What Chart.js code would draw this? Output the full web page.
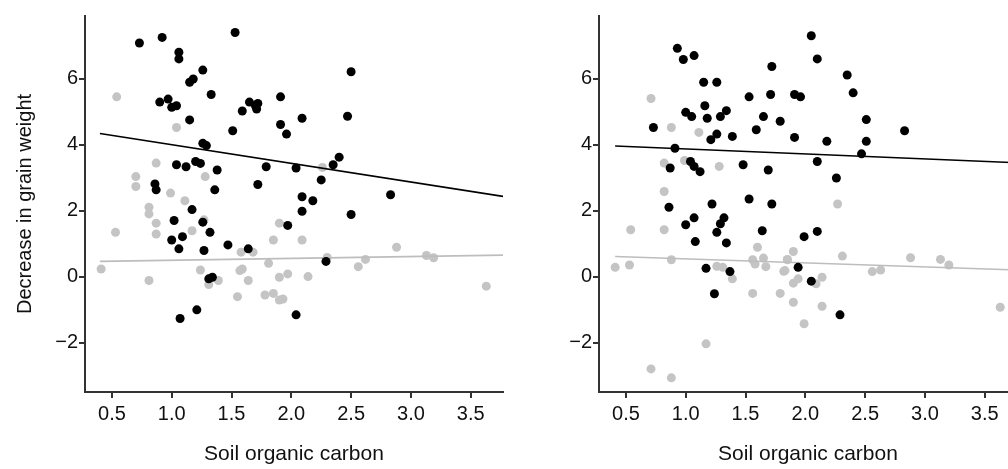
<!DOCTYPE html>
<html>
<head>
<meta charset="utf-8">
<script src="https://cdn.jsdelivr.net/npm/chart.js@4"></script>
<style>
  html, body { margin: 0; padding: 0; background: #fff; overflow: hidden; width: 1008px; height: 469px; }
  .panel { position: absolute; top: 0; }
</style>
</head>
<body>
<canvas id="leftChart" class="panel" width="515" height="469" style="left:0"></canvas>
<canvas id="rightChart" class="panel" width="515" height="469" style="left:514px"></canvas>
<script>
// tick values
const xTicks = [0.5, 1.0, 1.5, 2.0, 2.5, 3.0, 3.5];
const yTicks = [-2, 0, 2, 4, 6];

// left panel: [soil organic carbon, decrease in grain weight]
const leftBlack = [
  [0.73, 7.08], [0.92, 7.25], [1.06, 6.80], [1.06, 6.60], [1.53, 7.40], [1.26, 6.26],
  [1.18, 5.99], [1.15, 5.89], [1.33, 5.52], [0.90, 5.29], [0.97, 5.38], [1.00, 5.13],
  [1.04, 5.18], [1.15, 4.75], [1.51, 4.42], [1.59, 5.02], [1.65, 5.29], [1.70, 5.18],
  [1.72, 5.25], [1.71, 5.08], [1.91, 5.45], [1.91, 4.61], [1.96, 4.32], [1.26, 4.04],
  [1.29, 3.97], [1.04, 3.39], [1.12, 3.33], [1.20, 3.49], [1.24, 3.43], [1.38, 3.23],
  [1.79, 3.33], [2.50, 6.21], [2.09, 4.80], [2.47, 4.86], [2.40, 3.62], [2.35, 3.39],
  [2.04, 3.29], [2.25, 2.93], [0.86, 2.81], [0.87, 2.63], [1.36, 2.63], [1.72, 2.79],
  [1.17, 2.03], [1.02, 1.70], [1.26, 1.65], [1.32, 1.34], [1.00, 1.11], [1.09, 1.21],
  [1.06, 0.84], [1.27, 0.79], [1.47, 0.96], [1.64, 0.84], [1.97, 1.55], [1.31, -0.07],
  [1.34, -0.02], [1.07, -1.27], [1.21, -1.01], [2.09, 2.42], [2.18, 2.30], [2.09, 1.98],
  [2.83, 2.48], [2.50, 1.88], [2.29, 0.46], [2.04, -1.16]
];
const leftGrey = [
  [0.54, 5.45], [1.04, 4.52], [0.87, 3.44], [0.70, 3.03], [1.28, 3.03], [2.26, 3.31],
  [0.70, 2.73], [0.99, 2.53], [1.11, 2.30], [0.81, 2.10], [0.81, 1.90], [0.87, 1.62],
  [0.87, 1.29], [0.53, 1.34], [1.17, 1.39], [1.27, 1.72], [1.90, 1.62], [1.85, 1.11],
  [1.58, 0.74], [1.68, 0.74], [1.81, 0.40], [0.41, 0.23], [0.81, -0.12], [1.24, 0.20],
  [1.31, -0.24], [1.39, -0.12], [1.57, 0.18], [1.59, 0.23], [1.64, -0.12], [1.90, -0.02],
  [1.97, 0.08], [1.55, -0.61], [1.78, -0.56], [1.85, -0.51], [1.90, -0.71], [1.93, -0.68],
  [2.09, 1.11], [2.88, 0.89], [3.13, 0.64], [3.19, 0.57], [2.62, 0.52], [2.56, 0.30],
  [2.30, 0.58], [2.14, 0.00], [3.63, -0.29]
];
const leftBlackFit = [[0.40, 4.34], [3.77, 2.43]];
const leftGreyFit = [[0.40, 0.46], [3.77, 0.65]];

// right panel
const rightBlack = [
  [0.93, 6.92], [0.98, 6.58], [1.07, 6.70], [1.15, 5.89], [1.26, 5.89], [1.72, 6.37],
  [1.53, 5.45], [1.71, 5.52], [1.16, 5.18], [1.00, 4.98], [1.05, 4.85], [1.18, 4.80],
  [1.29, 4.85], [1.34, 5.03], [1.65, 4.85], [1.79, 4.71], [0.73, 4.52], [1.59, 4.45],
  [1.39, 4.25], [1.26, 4.32], [1.21, 4.15], [0.91, 3.89], [0.87, 3.29], [1.04, 3.49],
  [1.07, 3.34], [1.12, 3.18], [1.48, 3.39], [1.69, 3.23], [2.05, 7.30], [2.10, 6.60],
  [2.35, 6.11], [2.40, 5.57], [1.91, 5.52], [1.96, 5.45], [2.51, 4.76], [1.91, 4.22],
  [2.18, 4.10], [2.51, 4.10], [2.83, 4.42], [2.47, 3.72], [2.10, 3.49], [2.26, 2.99],
  [0.86, 2.10], [1.22, 2.20], [1.53, 2.35], [1.72, 2.20], [1.07, 1.78], [1.00, 1.57],
  [1.32, 1.78], [1.29, 1.60], [1.26, 1.34], [1.08, 1.06], [1.34, 1.02], [1.64, 1.39],
  [1.17, 0.25], [1.37, 0.15], [1.24, -0.52], [2.10, 1.37], [1.99, 1.21], [1.94, 0.28],
  [2.05, -0.14], [2.29, -1.16]
];
const rightGrey = [
  [0.71, 5.40], [0.88, 4.52], [1.11, 4.37], [0.82, 3.44], [0.99, 3.52], [1.28, 3.34],
  [0.82, 2.58], [0.82, 1.42], [0.54, 1.42], [0.88, 0.51], [0.41, 0.28], [0.53, 0.35],
  [1.26, 0.31], [1.31, 0.28], [1.39, -0.07], [1.60, 0.89], [1.56, 0.51], [1.65, 0.56],
  [1.58, 0.38], [1.67, 0.30], [1.82, 0.16], [1.85, 0.51], [1.56, -0.51], [1.79, -0.51],
  [2.27, 2.20], [1.90, 0.76], [1.85, 0.52], [1.83, 0.18], [2.31, 0.62], [2.88, 0.57],
  [3.13, 0.52], [3.20, 0.35], [2.56, 0.15], [2.63, 0.20], [1.94, -0.07], [1.90, -0.20],
  [2.14, -0.02], [2.09, -0.22], [1.90, -0.78], [2.14, -0.90], [1.99, -1.43], [3.63, -0.93],
  [1.17, -2.04], [0.71, -2.80], [0.88, -3.07]
];
const rightBlackFit = [[0.41, 3.96], [3.77, 3.45]];
const rightGreyFit = [[0.41, 0.61], [3.77, 0.20]];

const axisColor = "#333";
const textColor = "#111";
const fontFamily = "'Liberation Sans', Arial, sans-serif";

const toXY = pts => pts.map(([x, y]) => ({ x, y }));

function fmtY(v) {
  return v < 0 ? "\u2212" + Math.abs(v) : String(v);
}

function makePanel(id, black, grey, blackFit, greyFit, showYTitle) {
  const canvas = document.getElementById(id);

  return new Chart(canvas, {
    type: "scatter",
    data: {
      datasets: [
        {
          type: "line",
          data: toXY(blackFit),
          borderColor: "#000",
          borderWidth: 1.6,
          pointRadius: 0,
          order: 0
        },
        {
          data: toXY(black),
          backgroundColor: "#000",
          borderWidth: 0,
          pointRadius: 4.5,
          order: 1
        },
        {
          type: "line",
          data: toXY(greyFit),
          borderColor: "#bdbdbd",
          borderWidth: 1.6,
          pointRadius: 0,
          order: 2
        },
        {
          data: toXY(grey),
          backgroundColor: "#c4c4c4",
          borderWidth: 0,
          pointRadius: 4.5,
          order: 3
        }
      ]
    },
    options: {
      responsive: false,
      devicePixelRatio: 1,
      animation: false,
      layout: { padding: { top: 16, right: 12, left: 0, bottom: 0 } },
      plugins: {
        legend: { display: false },
        tooltip: { enabled: false }
      },
      scales: {
        x: {
          type: "linear",
          min: 0.275,
          max: 3.77,
          afterBuildTicks: s => { s.ticks = xTicks.map(v => ({ value: v })); },
          afterFit: s => { s.height = 77; },
          ticks: {
            callback: v => v.toFixed(1),
            color: textColor,
            font: { family: fontFamily, size: 20 },
            padding: 4,
            maxRotation: 0,
            autoSkip: false
          },
          grid: { drawOnChartArea: false, tickLength: 6, color: axisColor, lineWidth: 2 },
          border: { color: axisColor, width: 2 },
          title: {
            display: true,
            text: "Soil organic carbon",
            color: textColor,
            font: { family: fontFamily, size: 21 },
            padding: { top: 0, bottom: 2 }
          }
        },
        y: {
          min: -3.5,
          max: 7.9,
          afterBuildTicks: s => { s.ticks = yTicks.map(v => ({ value: v })); },
          afterFit: s => { s.width = 85; },
          ticks: {
            callback: fmtY,
            color: textColor,
            font: { family: fontFamily, size: 20 },
            padding: 1,
            autoSkip: false
          },
          grid: { drawOnChartArea: false, tickLength: 6, color: axisColor, lineWidth: 2 },
          border: { color: axisColor, width: 2 },
          title: {
            display: showYTitle,
            text: "Decrease in grain weight",
            color: textColor,
            font: { family: fontFamily, size: 20 },
            padding: { top: 13, bottom: 0 }
          }
        }
      }
    }
  });
}

makePanel("leftChart", leftBlack, leftGrey, leftBlackFit, leftGreyFit, true);
makePanel("rightChart", rightBlack, rightGrey, rightBlackFit, rightGreyFit, false);
</script>
</body>
</html>
